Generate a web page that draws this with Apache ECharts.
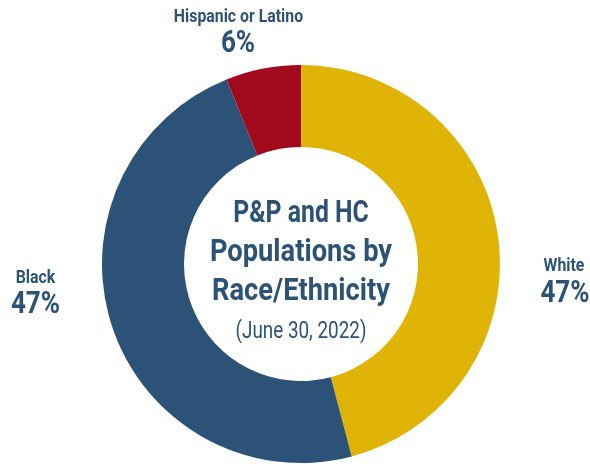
<!DOCTYPE html>
<html><head><meta charset="utf-8">
<script src="https://cdn.jsdelivr.net/npm/echarts@6/dist/echarts.min.js"></script>
<style>html,body{margin:0;padding:0;background:#fff}#c{width:590px;height:467px}</style>
</head><body><div id="c"></div>
<script>
const categories = ['White', 'Black', 'Hispanic or Latino'];
const values = [45.9, 48.0, 6.1];
const pctLabels = ['47%', '47%', '6%'];
const colors = ['#DFB407', '#2D5278', '#A00A1C'];
const titleLines = ['P&P and HC', 'Populations by', 'Race/Ethnicity'];
const subtitle = '(June 30, 2022)';

const navy = '#2D5278';
const F = 'Roboto,"Liberation Sans",sans-serif';
const chart = echarts.init(document.getElementById('c'), null, {renderer: 'canvas'});

const namePos = [[564, 266], [35.5, 278.5], [238.5, 17]];
const pctPos = [[565, 294], [35.5, 305], [238, 44]];
const titleScale = [0.80, 0.88, 0.88];
function txt(t, x, y, font, sx) {
  return {type: 'text', x: x, y: y, scaleX: sx,
    style: {text: t, fill: navy, font: font, align: 'center', verticalAlign: 'middle'}};
}
const graphics = [];
categories.forEach((c, i) => {
  graphics.push(txt(c, namePos[i][0], namePos[i][1], 'bold 18px ' + F, 0.88));
  graphics.push(txt(pctLabels[i], pctPos[i][0], pctPos[i][1], 'bold 31px ' + F, 0.84));
});
titleLines.forEach((t, i) => {
  graphics.push(txt(t, 301, 214 + i * 39, 'bold 31px ' + F, titleScale[i]));
});
graphics.push(txt(subtitle, 301, 332, '23px ' + F, 0.82));

chart.setOption({
  animation: false,
  series: [{
    type: 'pie',
    center: [301, 264],
    radius: [117, 199],
    startAngle: 90,
    clockwise: true,
    label: {show: false},
    labelLine: {show: false},
    emphasis: {disabled: true},
    itemStyle: {borderWidth: 0},
    data: categories.map((c, i) => ({name: c, value: values[i], itemStyle: {color: colors[i]}}))
  }],
  graphic: graphics
});
</script></body></html>
